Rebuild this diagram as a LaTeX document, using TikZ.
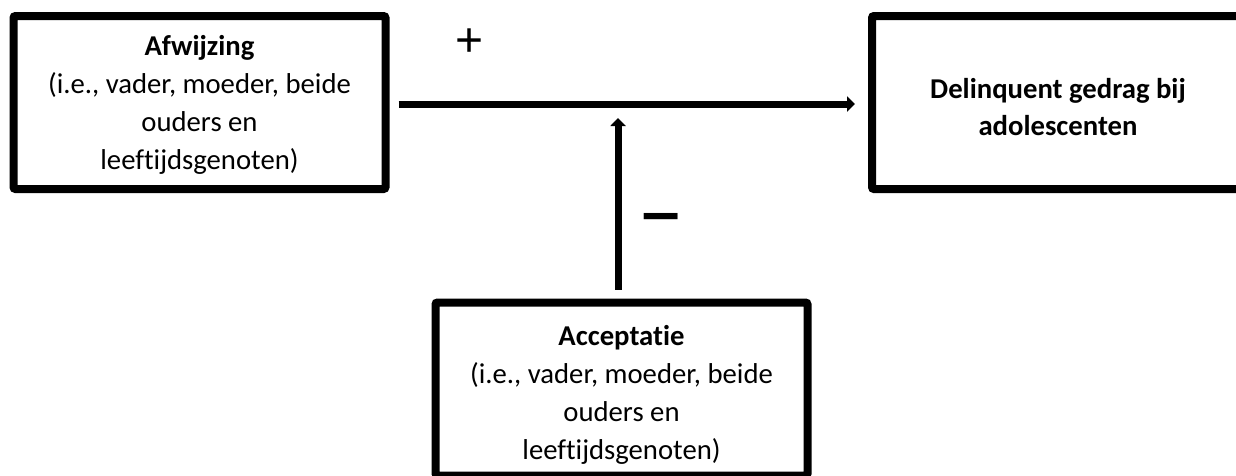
\documentclass[tikz,border=0pt]{standalone}
\usepackage{fontspec}
\setmainfont{Carlito}[Ligatures=NoCommon]
\newfontfamily\plusfont{Liberation Sans}
\newfontfamily\minusfont{DejaVu Sans}
\usetikzlibrary{arrows.meta}
\tikzset{
  boxstyle/.style={draw, line width=8pt, rounded corners=2pt, inner sep=0pt,
    minimum width=372pt, minimum height=173pt},
  txt/.style={inner sep=0pt, anchor=base, font=\fontsize{28.7}{38}\selectfont},
  conn/.style={line width=7pt, -{Triangle[length=8pt,width=15pt]}},
}
\begin{document}
\begin{tikzpicture}[x=1pt,y=-1pt]
\useasboundingbox (0,0) rectangle (1236,475);
\clip (0,0) rectangle (1236,475);
% texts
\node[txt] (afwtxt) at (199.5,55) {\begin{tabular}[t]{@{}c@{}}\textbf{Afwijzing}\\(i.e., vader, moeder, beide\\ouders en\\leeftijdsgenoten)\end{tabular}};
\node[txt, font=\fontsize{28.7}{37}\selectfont] (dlqtxt) at (1058,98) {\begin{tabular}[t]{@{}c@{}}\textbf{Delinquent gedrag bij}\\\textbf{adolescenten}\end{tabular}};
\node[txt] (acctxt) at (621.5,345) {\begin{tabular}[t]{@{}c@{}}\textbf{Acceptatie}\\(i.e., vader, moeder, beide\\ouders en\\leeftijdsgenoten)\end{tabular}};
% boxes
\node[boxstyle] (afw) at (199.5,102.5) {};
\node[boxstyle] (dlq) at (1058,102.5) {};
\node[boxstyle] (acc) at (621.5,389) {};
% connectors
\coordinate (vtip) at (618,118);
\draw[conn, shorten <=9pt, shorten >=13pt] ([yshift=-1.5pt]afw.east) -- ([yshift=-1.5pt]dlq.west);
\draw[conn, shorten <=9pt] ([xshift=-3.5pt]acc.north) -- (vtip);
% signs
\node[inner sep=0pt, font=\plusfont\fontsize{48}{48}\selectfont] (plus) at (470,43) {+};
\node[inner sep=0pt, font=\minusfont\bfseries\fontsize{54}{54}\selectfont] (minus) at (661,223) {−};
\end{tikzpicture}
\end{document}
